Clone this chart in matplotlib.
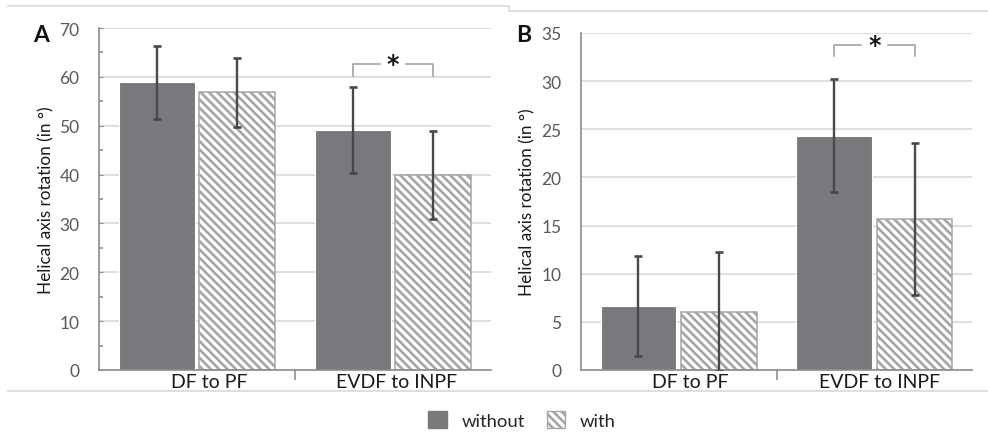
import matplotlib
matplotlib.use("Agg")
import matplotlib.pyplot as plt
import numpy as np
from matplotlib.lines import Line2D
from matplotlib.patches import Patch

plt.rcParams['font.family'] = ['Lato', 'DejaVu Sans']

categories = ["DF to PF", "EVDF to INPF"]
series = ["without", "with"]

# Panel A
a_without = [58.9, 49.2]
a_without_err = [7.5, 8.8]
a_with = [56.8, 40.0]
a_with_err = [7.0, 9.0]

# Panel B
b_without = [6.65, 24.35]
b_without_err = [5.2, 5.85]
b_with = [6.05, 15.65]
b_with_err = [6.2, 7.9]

SOLID = '#78797c'
HATCH_C = '#a5a5a5'
ERR_C = '#48484a'
GRID_C = '#d9d9d9'
SPINE_C = '#8c8c8c'
TICK_C = '#595959'

plt.rcParams['hatch.linewidth'] = 1.9

fig = plt.figure(figsize=(9.88, 4.35), dpi=100)

def panel(rect, without, werr, withv, wterr, ymax, major, minor_ticks, letter, letter_xy,
          bracket, label_pos):
    ax = fig.add_axes(rect)
    x = np.arange(len(categories))
    off = 0.206
    w = 0.387
    ax.bar(x - off, without, w, color=SOLID, edgecolor='white', linewidth=0.8, zorder=2)
    ax.bar(x + off, withv, w, color='white', edgecolor=HATCH_C, hatch='\\\\\\\\',
           linewidth=1.1, zorder=2)
    ax.errorbar(x - off, without, yerr=werr, fmt='none', ecolor=ERR_C, elinewidth=1.7,
                capsize=3.2, capthick=1.9, zorder=3)
    ax.errorbar(x + off, withv, yerr=wterr, fmt='none', ecolor=ERR_C, elinewidth=1.7,
                capsize=3.2, capthick=1.9, zorder=3, clip_on=True)
    ax.set_xlim(-0.5, 1.5)
    ax.set_ylim(0, ymax)
    ax.set_yticks(np.arange(0, ymax + 0.1, major))
    ax.yaxis.grid(True, color=GRID_C, linewidth=1.2, zorder=0)
    ax.set_axisbelow(True)
    for s in ['top', 'right']:
        ax.spines[s].set_visible(False)
    ax.spines['left'].set_color(SPINE_C)
    ax.spines['bottom'].set_color(SPINE_C)
    ax.spines['left'].set_linewidth(1.2)
    ax.spines['bottom'].set_linewidth(1.2)
    ax.tick_params(axis='y', direction='in', length=3 if minor_ticks else 0, color=SPINE_C,
                   labelsize=12.5, labelcolor=TICK_C, pad=14)
    if minor_ticks:
        ax.set_yticks(np.arange(5, ymax, major), minor=True)
        ax.tick_params(axis='y', which='minor', direction='in', length=3, color=SPINE_C, width=1.2)
    ax.set_xticks([label_pos[0], 1 + label_pos[1]])
    ax.set_xticklabels(categories)
    ax.set_xticks([0.5], minor=True)
    ax.tick_params(axis='x', which='major', length=0, labelsize=14, labelcolor='#1a1a1a', pad=2)
    ax.tick_params(axis='x', which='minor', direction='out', length=7, width=1.2, color=SPINE_C)
    ax.set_ylabel("Helical axis rotation (in °)", fontsize=12.3, color='#1a1a1a', labelpad=8)
    fig.text(letter_xy[0] / 988, 1 - letter_xy[1] / 435, letter, fontsize=16.5, fontweight='bold',
             ha='center', va='center', color='#111111')
    # significance bracket
    y_top, y_bot, gap = bracket
    xl, xr = 1 - off, 1 + off
    bc = '#9a9a9a'
    ax.plot([xl, xl, 1 - gap], [y_bot, y_top, y_top], color=bc, lw=1.1, zorder=4, clip_on=False)
    ax.plot([1 + gap, xr, xr], [y_top, y_top, y_bot], color=bc, lw=1.1, zorder=4, clip_on=False)
    ax.text(1.0, y_top, '*', ha='center', va='center', fontsize=17, fontweight='bold',
            family='DejaVu Sans', color='#1a1a1a', zorder=5)
    return ax

axA = panel([99 / 988, 1 - 371 / 435, 392 / 988, 342 / 435], a_without, a_without_err,
            a_with, a_with_err, 70, 10, True, 'A', (41, 35), (62.6, 60.1, 0.067), (0.06, 0.02))
axB = panel([581 / 988, 1 - 371 / 435, 391 / 988, 337 / 435], b_without, b_without_err,
            b_with, b_with_err, 35, 5, False, 'B', (524, 36), (33.8, 32.6, 0.07), (0.06, 0.028))
axA.yaxis.set_label_coords(-(99 - 46) / 392, 0.5)
axB.yaxis.set_label_coords(-(581 - 527) / 391, 0.5)
axA.yaxis.label.set_va('center')
axB.yaxis.label.set_va('center')

# frame lines
fc = '#d9d9d9'
fig.add_artist(Line2D([8 / 988, 509 / 988, 509 / 988, 1.0],
                      [1 - 7 / 435, 1 - 7 / 435, 1 - 12 / 435, 1 - 12 / 435],
                      transform=fig.transFigure, color=fc, lw=1.2))
fig.add_artist(Line2D([8 / 988, 1.0], [1 - 392 / 435, 1 - 392 / 435],
                      transform=fig.transFigure, color=fc, lw=1.2))

handles = [Patch(facecolor='#7a7a7a', edgecolor='#7a7a7a'),
           Patch(facecolor='white', edgecolor=HATCH_C, hatch='\\\\\\\\')]
fig.legend(handles, series, loc='center', bbox_to_anchor=(522 / 988, 1 - 421 / 435), ncol=2,
           frameon=False, fontsize=13.3, handlelength=1.0, handleheight=1.0,
           handletextpad=0.8, columnspacing=1.2, labelcolor='#262626')

fig.savefig('out.png', dpi=100)
